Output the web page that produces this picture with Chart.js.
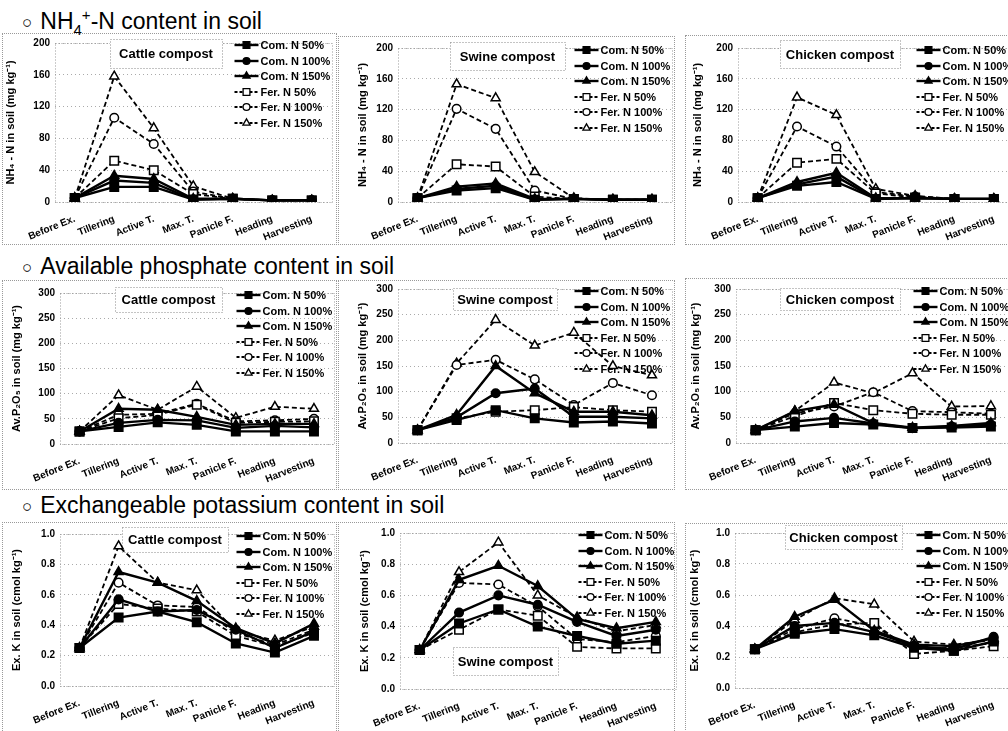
<!DOCTYPE html>
<html>
<head>
<meta charset="utf-8">
<script src="https://cdn.jsdelivr.net/npm/chart.js@4.4.0/dist/chart.umd.min.js"></script>
<style>
body { margin: 0; width: 1008px; height: 731px; overflow: hidden; background: #fff; position: relative; font-family: 'Liberation Sans', Arial, sans-serif; }
.sec { position: absolute; left: 22px; font-size: 23px; line-height: 23px; color: #000; white-space: nowrap; }
.sec .o { font-size: 17px; margin-right: 8px; position: relative; top: -1px; }
.sec sub, .sec sup { font-size: 15px; line-height: 0; }
.frame { position: absolute; border: 1px dotted #999; box-sizing: border-box; }
canvas { position: absolute; }
</style>
</head>
<body>
<div class="sec" style="top:10px"><span class="o">○</span>NH<sub>4</sub><sup>+</sup>-N content in soil</div>
<div class="sec" style="top:255px"><span class="o">○</span>Available phosphate content in soil</div>
<div class="sec" style="top:494px"><span class="o">○</span>Exchangeable potassium content in soil</div>
<script>
const stages = ['Before Ex.', 'Tillering', 'Active T.', 'Max. T.', 'Panicle F.', 'Heading', 'Harvesting'];
const seriesNames = ['Com. N 50%', 'Com. N 100%', 'Com. N 150%', 'Fer. N 50%', 'Fer. N 100%', 'Fer. N 150%'];

// NH4+-N in soil (mg kg-1), rows follow seriesNames
const nhCattle = [
  [5, 19, 19, 3, 4, 2, 2],
  [5, 27, 24, 3, 4, 2, 2],
  [5, 33, 29, 4, 4, 2, 2],
  [5, 52, 40, 10, 4, 2, 2],
  [5, 106, 73, 13, 4, 2, 2],
  [5, 158, 93, 20, 4, 2, 2]
];
const nhSwine = [
  [5, 15, 18, 3, 4, 3, 3],
  [5, 17, 21, 3, 4, 3, 3],
  [5, 20, 24, 4, 4, 3, 3],
  [5, 49, 46, 7, 4, 3, 3],
  [5, 121, 95, 15, 4, 3, 3],
  [5, 153, 135, 39, 5, 3, 3]
];
const nhChicken = [
  [5, 21, 26, 4, 5, 4, 4],
  [5, 23, 33, 4, 5, 4, 4],
  [5, 26, 38, 5, 5, 4, 4],
  [5, 51, 56, 11, 6, 4, 4],
  [5, 98, 72, 13, 7, 4, 4],
  [5, 136, 113, 17, 8, 4, 4]
];

// Av. P2O5 in soil (mg kg-1)
const pCattle = [
  [25, 34, 43, 38, 25, 25, 25],
  [25, 42, 48, 47, 32, 36, 33],
  [25, 70, 68, 54, 38, 40, 40],
  [25, 51, 58, 78, 42, 44, 45],
  [25, 58, 60, 80, 45, 47, 50],
  [25, 97, 68, 114, 52, 74, 70]
];
const pSwine = [
  [25, 45, 64, 48, 40, 42, 38],
  [25, 50, 97, 106, 51, 51, 48],
  [25, 55, 150, 97, 61, 61, 54],
  [25, 48, 61, 64, 70, 64, 61],
  [25, 152, 162, 124, 74, 117, 93],
  [25, 155, 240, 190, 215, 150, 132]
];
const pChicken = [
  [25, 32, 39, 36, 29, 30, 32],
  [25, 42, 49, 38, 29, 32, 36],
  [25, 62, 75, 39, 30, 33, 39],
  [25, 52, 78, 64, 57, 55, 55],
  [25, 58, 71, 99, 62, 60, 57],
  [25, 62, 118, 97, 136, 71, 72]
];

// Ex. K in soil (cmol kg-1)
const kCattle = [
  [0.25, 0.45, 0.49, 0.42, 0.28, 0.22, 0.33],
  [0.25, 0.57, 0.49, 0.50, 0.37, 0.25, 0.36],
  [0.25, 0.75, 0.68, 0.56, 0.38, 0.28, 0.41],
  [0.25, 0.54, 0.51, 0.49, 0.33, 0.26, 0.35],
  [0.25, 0.68, 0.53, 0.52, 0.35, 0.27, 0.37],
  [0.25, 0.92, 0.68, 0.63, 0.36, 0.30, 0.39]
];
const kSwine = [
  [0.25, 0.42, 0.51, 0.40, 0.34, 0.29, 0.31],
  [0.25, 0.49, 0.60, 0.54, 0.43, 0.34, 0.38],
  [0.25, 0.70, 0.79, 0.66, 0.45, 0.39, 0.43],
  [0.25, 0.38, 0.51, 0.47, 0.27, 0.26, 0.26],
  [0.25, 0.68, 0.67, 0.53, 0.32, 0.30, 0.34],
  [0.25, 0.75, 0.94, 0.60, 0.46, 0.37, 0.41]
];
const kChicken = [
  [0.25, 0.35, 0.38, 0.34, 0.26, 0.24, 0.30],
  [0.25, 0.40, 0.42, 0.36, 0.27, 0.25, 0.33],
  [0.25, 0.46, 0.57, 0.37, 0.28, 0.27, 0.32],
  [0.25, 0.36, 0.41, 0.42, 0.22, 0.24, 0.27],
  [0.25, 0.38, 0.45, 0.40, 0.25, 0.26, 0.29],
  [0.25, 0.44, 0.58, 0.54, 0.30, 0.28, 0.31]
];

const nhTitle = 'NH\u2084 - N in soil (mg kg\u207B\u00B9)';
const pTitle = 'Av.P\u2082O\u2085 in soil (mg kg\u207B\u00B9)';
const kTitle = 'Ex. K in soil (cmol kg\u207B\u00B9)';

const FONT = "'Liberation Sans', Arial, sans-serif";

// plot = [left, top, right, bottom] of the plot area on the page, yw = y axis width
// box = title box relative to the plot area, frame = dotted panel border
const panels = [
  { data: nhCattle, name: 'Cattle compost', yTitle: nhTitle, max: 200, step: 40, plot: [55, 43, 333, 202], yw: 55, box: [55, -4, 112, 29], frame: [2, 33, 335, 212] },
  { data: nhSwine, name: 'Swine compost', yTitle: nhTitle, max: 200, step: 40, plot: [398, 48, 673, 202], yw: 46, box: [52, -6, 115, 28], frame: [338, 36, 337, 209] },
  { data: nhChicken, name: 'Chicken compost', yTitle: nhTitle, max: 200, step: 40, plot: [738, 48, 1015, 202], yw: 51, box: [42, -8, 120, 28], frame: [685, 35, 330, 210] },
  { data: pCattle, name: 'Cattle compost', yTitle: pTitle, max: 300, step: 50, plot: [60, 293, 335, 444], yw: 54, box: [55, -6, 107, 25], frame: [2, 280, 335, 210] },
  { data: pSwine, name: 'Swine compost', yTitle: pTitle, max: 300, step: 50, plot: [398, 289, 673, 443], yw: 46, box: [55, -1, 104, 22], frame: [338, 280, 337, 210] },
  { data: pChicken, name: 'Chicken compost', yTitle: pTitle, max: 300, step: 50, plot: [736, 289, 1012, 443], yw: 51, box: [44, -1, 120, 22], frame: [685, 278, 330, 212] },
  { data: kCattle, name: 'Cattle compost', yTitle: kTitle, max: 1, step: 0.2, dec: 1, plot: [60, 534, 335, 686], yw: 54, box: [62, -7, 106, 25], frame: [2, 522, 335, 215] },
  { data: kSwine, name: 'Swine compost', yTitle: kTitle, max: 1, step: 0.2, dec: 1, plot: [400, 533, 677, 689], yw: 46, box: [53, 114, 105, 28], frame: [338, 522, 337, 215] },
  { data: kChicken, name: 'Chicken compost', yTitle: kTitle, max: 1, step: 0.2, dec: 1, plot: [735, 533, 1015, 688], yw: 51, box: [50, -8, 117, 24], frame: [685, 523, 330, 215] }
];

const markers = ['rect', 'circle', 'triangle'];
const markerSize = { rect: 6, circle: 4.3, triangle: 5.2 };

// title box, plot frame and in-plot legend
const deco = {
  id: 'deco',
  beforeDatasetsDraw(chart, args, o) {
    const ctx = chart.ctx, a = chart.chartArea;
    ctx.save();
    ctx.strokeStyle = '#999';
    ctx.lineWidth = 1;
    ctx.setLineDash([1, 2]);
    ctx.strokeRect(Math.round(a.left) + 0.5, Math.round(a.top) + 0.5, Math.round(a.right - a.left), Math.round(a.bottom - a.top));

    const [bx, by, bw, bh] = o.box;
    const x0 = Math.round(a.left + bx), y0 = Math.round(a.top + by);
    ctx.fillStyle = '#fff';
    ctx.fillRect(x0, y0, bw, bh);
    ctx.strokeStyle = '#888';
    ctx.strokeRect(x0 + 0.5, y0 + 0.5, bw, bh);
    ctx.setLineDash([]);
    ctx.fillStyle = '#000';
    ctx.font = 'bold 13px ' + FONT;
    ctx.textAlign = 'center';
    ctx.textBaseline = 'middle';
    ctx.fillText(o.title, x0 + bw / 2, y0 + bh / 2 + 1);

    const lx = a.right - 97;
    chart.data.datasets.forEach((ds, i) => {
      const y = Math.round(a.top + 2 + i * 15.5);
      ctx.strokeStyle = '#000';
      ctx.lineWidth = ds.borderWidth;
      ctx.setLineDash(ds.borderDash.length ? [3, 2] : []);
      ctx.beginPath();
      ctx.moveTo(lx, y);
      ctx.lineTo(lx + 24, y);
      ctx.stroke();
      ctx.setLineDash([]);
      ctx.fillStyle = ds.pointBackgroundColor;
      ctx.lineWidth = 1.3;
      Chart.helpers.drawPoint(ctx, { pointStyle: ds.pointStyle, radius: ds.pointRadius * 0.8, borderWidth: 1.3 }, lx + 12, y);
      ctx.fillStyle = '#000';
      ctx.textAlign = 'left';
      ctx.textBaseline = 'middle';
      ctx.font = 'bold 11px ' + FONT;
      ctx.fillText(ds.label, lx + 26, y + 0.5);
    });
    ctx.restore();
  }
};

const PAD_TOP = 12, PAD_RIGHT = 6, X_H = 48;

panels.forEach(p => {
  const [L, T, R, B] = p.plot;
  const f = document.createElement('div');
  f.className = 'frame';
  f.style.left = p.frame[0] + 'px';
  f.style.top = p.frame[1] + 'px';
  f.style.width = p.frame[2] + 'px';
  f.style.height = p.frame[3] + 'px';
  document.body.appendChild(f);

  const cv = document.createElement('canvas');
  const w = R - L + p.yw + PAD_RIGHT, h = B - T + PAD_TOP + X_H;
  cv.width = w;
  cv.height = h;
  cv.style.left = (L - p.yw) + 'px';
  cv.style.top = (T - PAD_TOP) + 'px';
  cv.style.width = w + 'px';
  cv.style.height = h + 'px';
  document.body.appendChild(cv);

  const datasets = p.data.map((vals, i) => {
    const fer = i >= 3;
    const style = markers[i % 3];
    return {
      label: seriesNames[i],
      data: vals,
      borderColor: '#000',
      borderWidth: fer ? 1.8 : 2.4,
      borderDash: fer ? [5, 3] : [],
      pointStyle: style,
      pointRadius: markerSize[style],
      pointBackgroundColor: fer ? '#fff' : '#000',
      pointBorderColor: '#000',
      pointBorderWidth: 1.5,
      tension: 0
    };
  });

  new Chart(cv, {
    type: 'line',
    data: { labels: stages, datasets: datasets },
    plugins: [deco],
    options: {
      responsive: false,
      animation: false,
      devicePixelRatio: 1,
      layout: { padding: { top: PAD_TOP, right: PAD_RIGHT, left: 0, bottom: 0 } },
      plugins: {
        legend: { display: false },
        tooltip: { enabled: false },
        deco: { box: p.box, title: p.name }
      },
      scales: {
        x: {
          offset: true,
          grid: { display: false },
          border: { display: false },
          ticks: {
            color: '#000',
            font: { family: FONT, size: 10, weight: 'bold' },
            minRotation: 22, maxRotation: 22, autoSkip: false, padding: 3
          },
          afterFit(s) { s.height = X_H; }
        },
        y: {
          min: 0,
          max: p.max,
          grid: { color: '#aaa', drawTicks: false },
          border: { display: false, dash: [1, 3] },
          ticks: {
            stepSize: p.step,
            color: '#000',
            padding: 5,
            font: { family: FONT, size: 10, weight: 'bold' },
            callback: v => p.dec ? Number(v).toFixed(1) : v
          },
          title: {
            display: true,
            text: p.yTitle,
            color: '#000',
            font: { family: FONT, size: 11, weight: 'bold' },
            padding: { top: 4, bottom: 0 }
          },
          afterFit(s) { s.width = p.yw; }
        }
      }
    }
  });
});
</script>
</body>
</html>
